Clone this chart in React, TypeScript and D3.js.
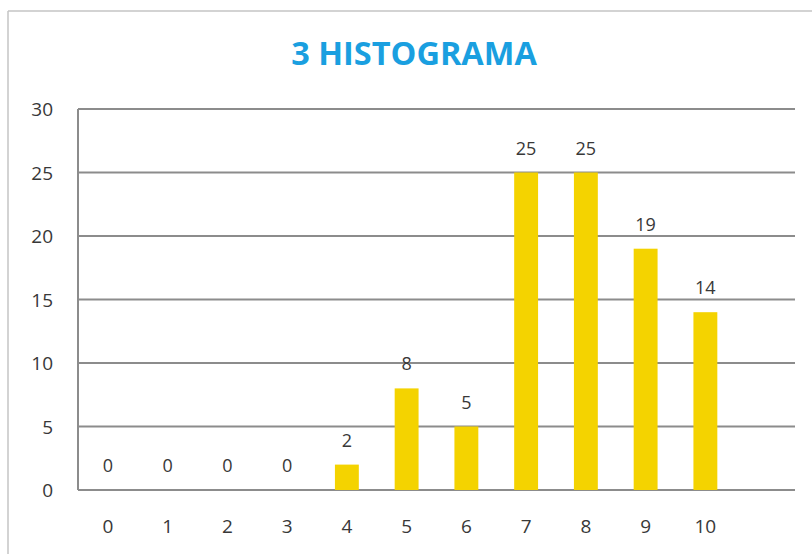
import React from "react";
import * as d3 from "d3";

const categories = ["0", "1", "2", "3", "4", "5", "6", "7", "8", "9", "10"];
const values = [0, 0, 0, 0, 2, 8, 5, 25, 25, 19, 14];
const yTicks = [0, 5, 10, 15, 20, 25, 30];
const titleText = "3 HISTOGRAMA";

const W = 812;
const H = 554;

export default function App() {
  const left = 78;
  const right = 795;
  const top = 109;
  const bottom = 490;
  // 12 slots: the 11 categories plus one empty slot at the right
  const slots = [...categories, "__empty"];
  const x = d3.scaleBand<string>().domain(slots).range([left, right]).paddingInner(0.6).paddingOuter(0.3);
  const y = d3.scaleLinear().domain([0, 30]).range([bottom, top]);
  const bw = x.bandwidth();
  const font = "'Open Sans', 'Liberation Sans', sans-serif";
  const textColor = "#383838";
  const gridColor = "#8c8c8c";

  const cx = (c: string) => (x(c) as number) + bw / 2;

  return (
    <svg width={W} height={H} style={{ position: "absolute", left: 0, top: 0, background: "#fff" }}>
      <rect x={0} y={0} width={W} height={H} fill="#fff" />
      {/* chart border */}
      <line x1={8} y1={11} x2={W} y2={11} stroke="#c4c4c4" strokeWidth={1.5} />
      <line x1={8} y1={11} x2={8} y2={H} stroke="#c4c4c4" strokeWidth={1.5} />
      {/* title */}
      <text x={414} y={65} textAnchor="middle" fontFamily={font} fontWeight={700} fontSize={32.5} fill="#1a9fe0">
        {titleText}
      </text>
      {/* gridlines */}
      {yTicks.map((t) => (
        <line key={"g" + t} x1={left} x2={right} y1={y(t)} y2={y(t)} stroke={gridColor} strokeWidth={2} />
      ))}
      <line x1={left} x2={left} y1={y(30)} y2={y(0)} stroke={gridColor} strokeWidth={2} />
      {/* y tick labels */}
      {yTicks.map((t) => (
        <text key={"yl" + t} x={53} y={y(t) + 7} textAnchor="end" fontFamily={font} fontSize={19} fill={textColor}>
          {t}
        </text>
      ))}
      {/* bars */}
      {categories.map((c, i) => (
        <rect key={"b" + c} x={x(c)} y={y(values[i])} width={bw} height={y(0) - y(values[i])} fill="#f4d300" />
      ))}
      {/* data labels */}
      {categories.map((c, i) => (
        <text key={"dl" + c} x={cx(c)} y={y(values[i]) - 18} textAnchor="middle" fontFamily={font} fontSize={18} fill={textColor}>
          {values[i]}
        </text>
      ))}
      {/* x tick labels */}
      {categories.map((c) => (
        <text key={"xl" + c} x={cx(c)} y={533} textAnchor="middle" fontFamily={font} fontSize={19} fill={textColor}>
          {c}
        </text>
      ))}
    </svg>
  );
}
